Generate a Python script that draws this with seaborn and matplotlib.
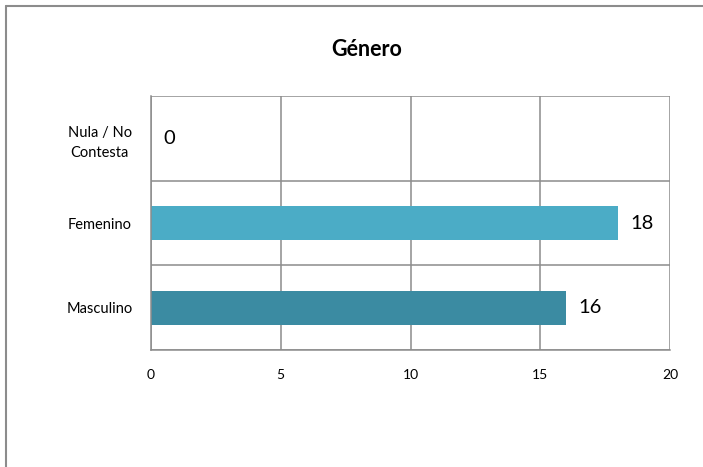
import matplotlib
matplotlib.use("Agg")
import matplotlib.pyplot as plt
import seaborn as sns
import pandas as pd
from matplotlib.lines import Line2D

# data
categories = ["Nula / No\nContesta", "Femenino", "Masculino"]
counts = [0, 18, 16]
bar_colors = ["#4BACC6", "#4BACC6", "#3B8BA2"]
x_ticks = [0, 5, 10, 15, 20]

sns.set_style("white")
plt.rcParams['font.family'] = ['Lato', 'DejaVu Sans']
plt.rcParams['text.color'] = 'black'
plt.rcParams['xtick.labelcolor'] = 'black'
plt.rcParams['ytick.labelcolor'] = 'black'

df = pd.DataFrame({"categoria": categories, "n": counts})

fig = plt.figure(figsize=(7.03, 4.67), dpi=100)
ax = fig.add_axes([151 / 703, 1 - 350 / 467, (670 - 151) / 703, (350 - 96) / 467])

sns.barplot(data=df, x="n", y="categoria", hue="categoria", palette=bar_colors,
            order=categories, hue_order=categories, width=0.4, legend=False,
            saturation=1, linewidth=0, ax=ax)

ax.set_xlim(0, 20)
ax.set_ylim(2.5, -0.5)
ax.set_xticks(x_ticks)
ax.set_xticklabels([str(t) for t in x_ticks], fontsize=10)
ax.set_yticks(range(len(categories)))
ax.set_yticklabels(categories, fontsize=10.5, ha="center", linespacing=1.6)
ax.tick_params(axis="y", which="major", length=0, pad=37)
ax.set_yticks([-0.5, 0.5, 1.5, 2.5], minor=True)
ax.tick_params(axis="y", which="minor", length=5, width=1.1, color="#8c8c8c")
ax.tick_params(axis="x", which="major", length=5, width=1.1, color="#8c8c8c", pad=9)
ax.set_xlabel("")
ax.set_ylabel("")

# gridlines
ax.grid(True, axis="x", which="major", color="#8c8c8c", linewidth=1.1)
ax.grid(True, axis="y", which="minor", color="#8c8c8c", linewidth=1.1)
ax.set_axisbelow(True)

for side in ["top", "right"]:
    ax.spines[side].set_visible(False)
for side in ["left", "bottom"]:
    ax.spines[side].set_color("#8c8c8c")
    ax.spines[side].set_linewidth(1.1)

for cont in ax.containers:
    ax.bar_label(cont, fmt="%d", padding=9, fontsize=14.5)

fig.text(0.522, 0.895, "Género", ha="center", va="center",
         fontsize=15.5, fontweight="bold")

# chart frame (only top and left edges visible in reference)
fig.add_artist(Line2D([6 / 703, 1], [1 - 6 / 467] * 2, transform=fig.transFigure,
                      color="#8c8c8c", linewidth=1.5))
fig.add_artist(Line2D([6 / 703] * 2, [0, 1 - 6 / 467], transform=fig.transFigure,
                      color="#8c8c8c", linewidth=1.5))

fig.savefig("out.png", dpi=100)
